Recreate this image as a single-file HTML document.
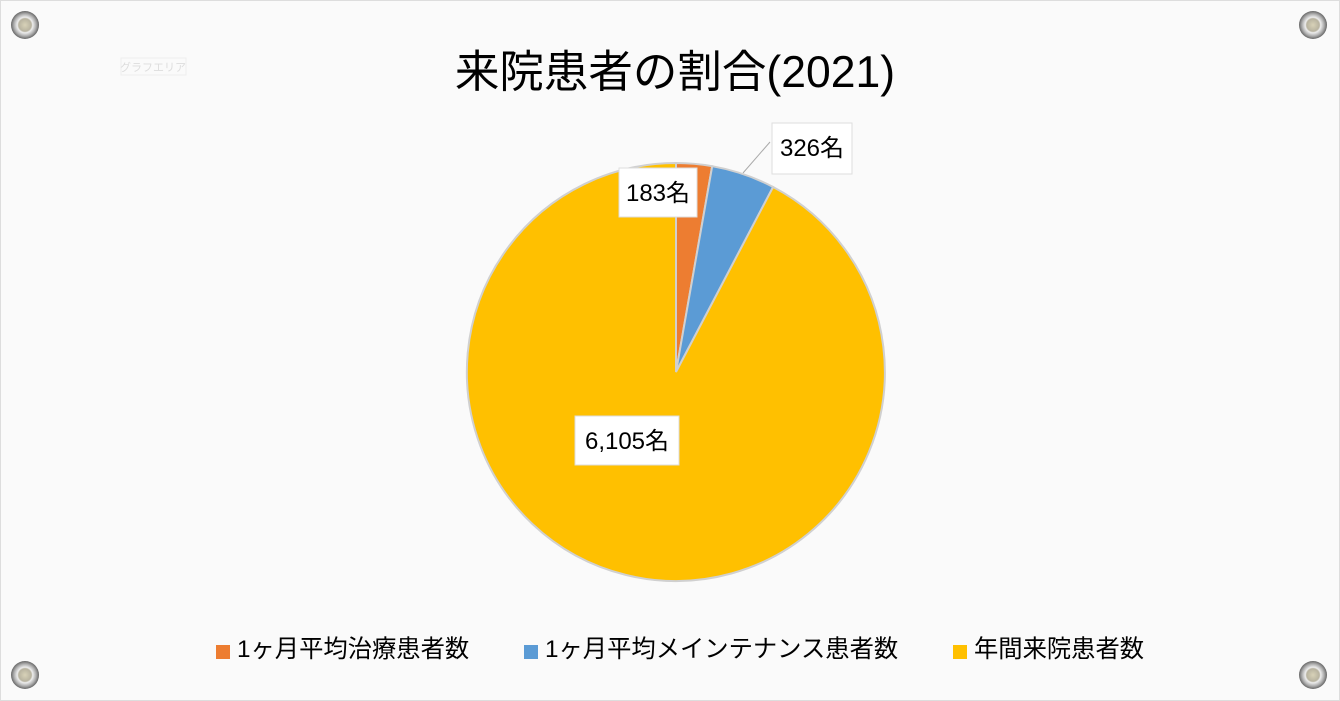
<!DOCTYPE html>
<html><head><meta charset="utf-8"><style>
body{margin:0;width:1340px;height:701px;overflow:hidden;background:#fafafa;font-family:"Liberation Sans","Noto Sans CJK JP",sans-serif;}
</style></head><body>
<svg width="1340" height="701" xmlns="http://www.w3.org/2000/svg" style="position:absolute;left:0;top:0">
<defs><radialGradient id="s" cx="50%" cy="50%" r="50%"><stop offset="0" stop-color="#d8d2b8"/><stop offset="0.45" stop-color="#b8b3a0"/><stop offset="0.55" stop-color="#eee"/><stop offset="0.8" stop-color="#aaa"/><stop offset="1" stop-color="#666"/></radialGradient></defs>
<rect x="0.5" y="0.5" width="1339" height="700" fill="#fafafa" stroke="#ddd"/>
<g>
<circle cx="25" cy="25" r="14" fill="url(#s)"/><circle cx="1313" cy="25" r="14" fill="url(#s)"/>
<circle cx="25" cy="675" r="14" fill="url(#s)"/><circle cx="1313" cy="675" r="14" fill="url(#s)"/>
</g>
<rect x="121" y="58" width="65" height="17" fill="none" stroke="#eee"/>
<text x="153" y="71" font-size="11" fill="#ddd" text-anchor="middle">グラフエリア</text>
<text x="675" y="87" font-size="44.5" text-anchor="middle" fill="#000">来院患者の割合(2021)</text>
<g stroke="#d0d0d0" stroke-width="2">
<path d="M676,372 L676,163 A209,209 0 0 1 712.2,166.2 Z" fill="#ed7d31"/>
<path d="M676,372 L712.2,166.2 A209,209 0 0 1 773.1,187 Z" fill="#5b9bd5"/>
<path d="M676,372 L773.1,187 A209,209 0 1 1 676,163 Z" fill="#ffc000"/>
</g>
<line x1="743" y1="173" x2="770" y2="142" stroke="#aaa"/>
<rect x="619" y="168" width="78" height="49" fill="#fff" stroke="#ddd"/>
<text x="658" y="201" font-size="24" text-anchor="middle">183名</text>
<rect x="772" y="123" width="80" height="51" fill="#fff" stroke="#ddd"/>
<text x="812" y="156" font-size="24" text-anchor="middle">326名</text>
<rect x="575" y="416" width="104" height="49" fill="#fff" stroke="#ddd"/>
<text x="627" y="449" font-size="24" text-anchor="middle">6,105名</text>
<rect x="216" y="645" width="14" height="14" fill="#ed7d31"/>
<text x="237" y="657" font-size="24.3">1ヶ月平均治療患者数</text>
<rect x="524" y="645" width="14" height="14" fill="#5b9bd5"/>
<text x="545" y="657" font-size="24.3">1ヶ月平均メインテナンス患者数</text>
<rect x="953" y="645" width="14" height="14" fill="#ffc000"/>
<text x="974" y="657" font-size="24.3">年間来院患者数</text>
</svg>
</body></html>
